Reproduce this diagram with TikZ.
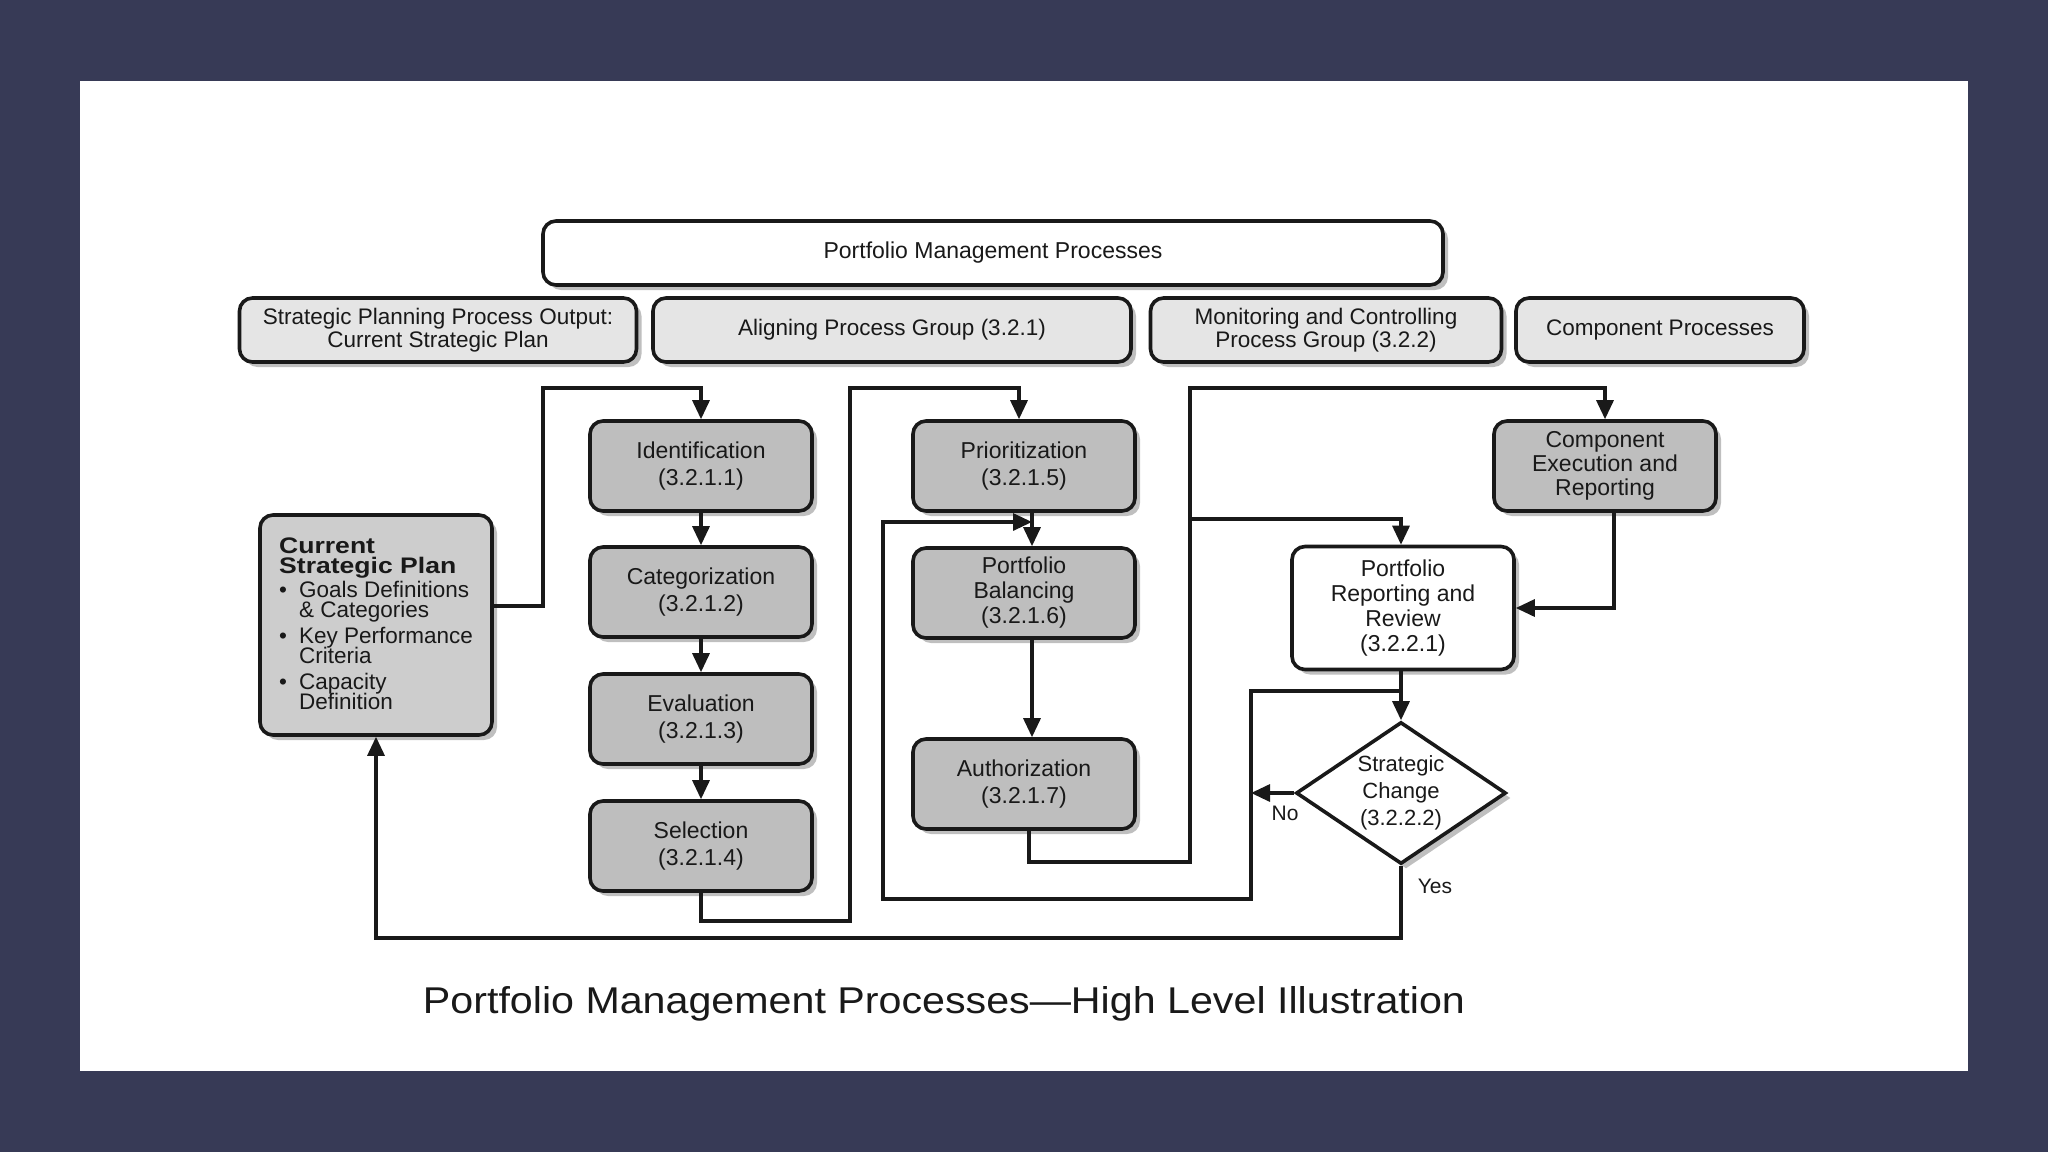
\documentclass[tikz,border=0pt]{standalone}
\usepackage{fontspec}
\setmainfont{Liberation Sans}
\usetikzlibrary{arrows.meta,shapes.geometric,shadows}
\definecolor{bgdark}{RGB}{55,58,86}
\definecolor{procgray}{RGB}{190,190,190}
\definecolor{hdrgray}{RGB}{229,229,229}
\definecolor{cspgray}{RGB}{205,205,205}
\definecolor{ink}{RGB}{25,25,25}
\newcommand\csptight{\setlength{\lineskiplimit}{-20pt}}
\begin{document}
\begin{tikzpicture}[x=1pt,y=-1pt,
  shade/.style={drop shadow={shadow xshift=5pt,shadow yshift=-5pt,opacity=0.25,fill=black}},
  box/.style={draw=ink,line width=3.6pt,rounded corners=13pt,align=center,text=ink,inner sep=0pt,
    font=\fontsize{23}{27}\selectfont,shade},
  proc/.style={box,fill=procgray,minimum width=222pt,minimum height=90pt},
  hdr/.style={box,fill=hdrgray,minimum height=64pt,font=\fontsize{22.5}{23}\selectfont},
  conn/.style={draw=ink,line width=3.2pt},
  arr/.style={conn,-{Triangle[length=19pt,width=17pt]}},
  lbl/.style={text=ink,font=\fontsize{21}{24}\selectfont,inner sep=0pt}]
\fill[bgdark] (0,0) rectangle (2048,1152);
\fill[white] (80,81) rectangle (1968,1071);
\useasboundingbox (0,0) rectangle (2048,1152);

% headers
\node[box,fill=white,minimum width=900pt,minimum height=64pt] (pmp) at (993,253) {Portfolio Management Processes};
\node[hdr,minimum width=397pt] (spo) at (438,330) {Strategic Planning Process Output:\\Current Strategic Plan};
\node[hdr,minimum width=478pt] (apg) at (892,330) {Aligning Process Group (3.2.1)};
\node[hdr,minimum width=351pt] (mcg) at (1326,330) {Monitoring and Controlling\\Process Group (3.2.2)};
\node[hdr,minimum width=288pt] (cpr) at (1660,330) {Component Processes};

% current strategic plan
\node[box,fill=cspgray,minimum width=232pt,minimum height=220pt] (csp) at (376,625) {};
\node[anchor=north west,align=left,inner sep=0pt,text=ink,
  font=\fontsize{22.5}{19.5}\selectfont\csptight] (csptxt) at (279,538)
 {\scalebox{1.18}[1]{\bfseries Current}\\
  \scalebox{1.18}[1]{\bfseries Strategic Plan}\\[5pt]
  \makebox[20pt][l]{\textbullet}Goals Definitions\\
  \hspace*{20pt}\& Categories\\[7pt]
  \makebox[20pt][l]{\textbullet}Key Performance\\
  \hspace*{20pt}Criteria\\[7pt]
  \makebox[20pt][l]{\textbullet}Capacity\\
  \hspace*{20pt}Definition};

% aligning column 1
\node[proc] (ident) at (701,466) {Identification\\(3.2.1.1)};
\node[proc] (cat)   at (701,592) {Categorization\\(3.2.1.2)};
\node[proc] (eval)  at (701,719) {Evaluation\\(3.2.1.3)};
\node[proc] (sel)   at (701,846) {Selection\\(3.2.1.4)};
% aligning column 2
\node[proc] (prio)  at (1024,466) {Prioritization\\(3.2.1.5)};
\node[proc,font=\fontsize{23}{25}\selectfont] (bal) at (1024,593) {Portfolio\\Balancing\\(3.2.1.6)};
\node[proc] (auth)  at (1024,784) {Authorization\\(3.2.1.7)};
% monitoring & component
\node[proc,font=\fontsize{23}{24}\selectfont] (cex) at (1605,466) {Component\\Execution and\\Reporting};
\node[box,fill=white,minimum width=222pt,minimum height=123pt,font=\fontsize{23}{25}\selectfont] (rep) at (1403,608) {Portfolio\\Reporting and\\Review\\(3.2.2.1)};
\node[diamond,aspect=1.5,draw=ink,line width=3.6pt,fill=white,minimum width=210pt,minimum height=142pt,inner sep=0pt,
  align=center,text=ink,font=\fontsize{22}{27}\selectfont,shade] (dec) at (1401,793) {Strategic\\Change\\(3.2.2.2)};

% coordinates
\coordinate (fbout) at (1401,691);
\coordinate (fbin) at (1032,522);
\coordinate (jct) at (1190,519);
\coordinate (nojoin) at (1251,793);

% connectors
\draw[arr] ([yshift=19pt]csp.east) -| (543,388) -| (ident.north);
\draw[arr] (ident) -- (cat);
\draw[arr] (cat) -- (eval);
\draw[arr] (eval) -- (sel);
\draw[arr] (sel.south) |- (850,921) -- (850,388) -| ([xshift=-5pt]prio.north);
\draw[arr] ([xshift=8pt]prio.south) -- ([xshift=8pt]bal.north);
\draw[arr] ([xshift=8pt]bal.south) -- ([xshift=8pt]auth.north);
\draw[arr] ([xshift=5pt]auth.south) |- (1190,862) -- (1190,388) -| (cex.north);
\draw[arr] (jct) -| ([xshift=-2pt]rep.north);
\draw[arr] ([xshift=9pt]cex.south) |- (rep.east);
\draw[arr] ([xshift=-2pt]rep.south) -- (dec);
\draw[arr] (fbout) -| (1251,899) -| (883,522) -- (fbin);
\draw[arr] (dec.west) -- (nojoin);
\draw[arr] (dec.south) -- (1401,938) -| (csp.south);

\node[lbl] (nolbl) at (1285,813) {No};
\node[lbl] (yeslbl) at (1435,886) {Yes};

\node[inner sep=0pt,text=ink] (cap) at (944,1004)
 {\resizebox{1042pt}{27pt}{Portfolio Management Processes---High Level Illustration}};
\end{tikzpicture}
\end{document}
